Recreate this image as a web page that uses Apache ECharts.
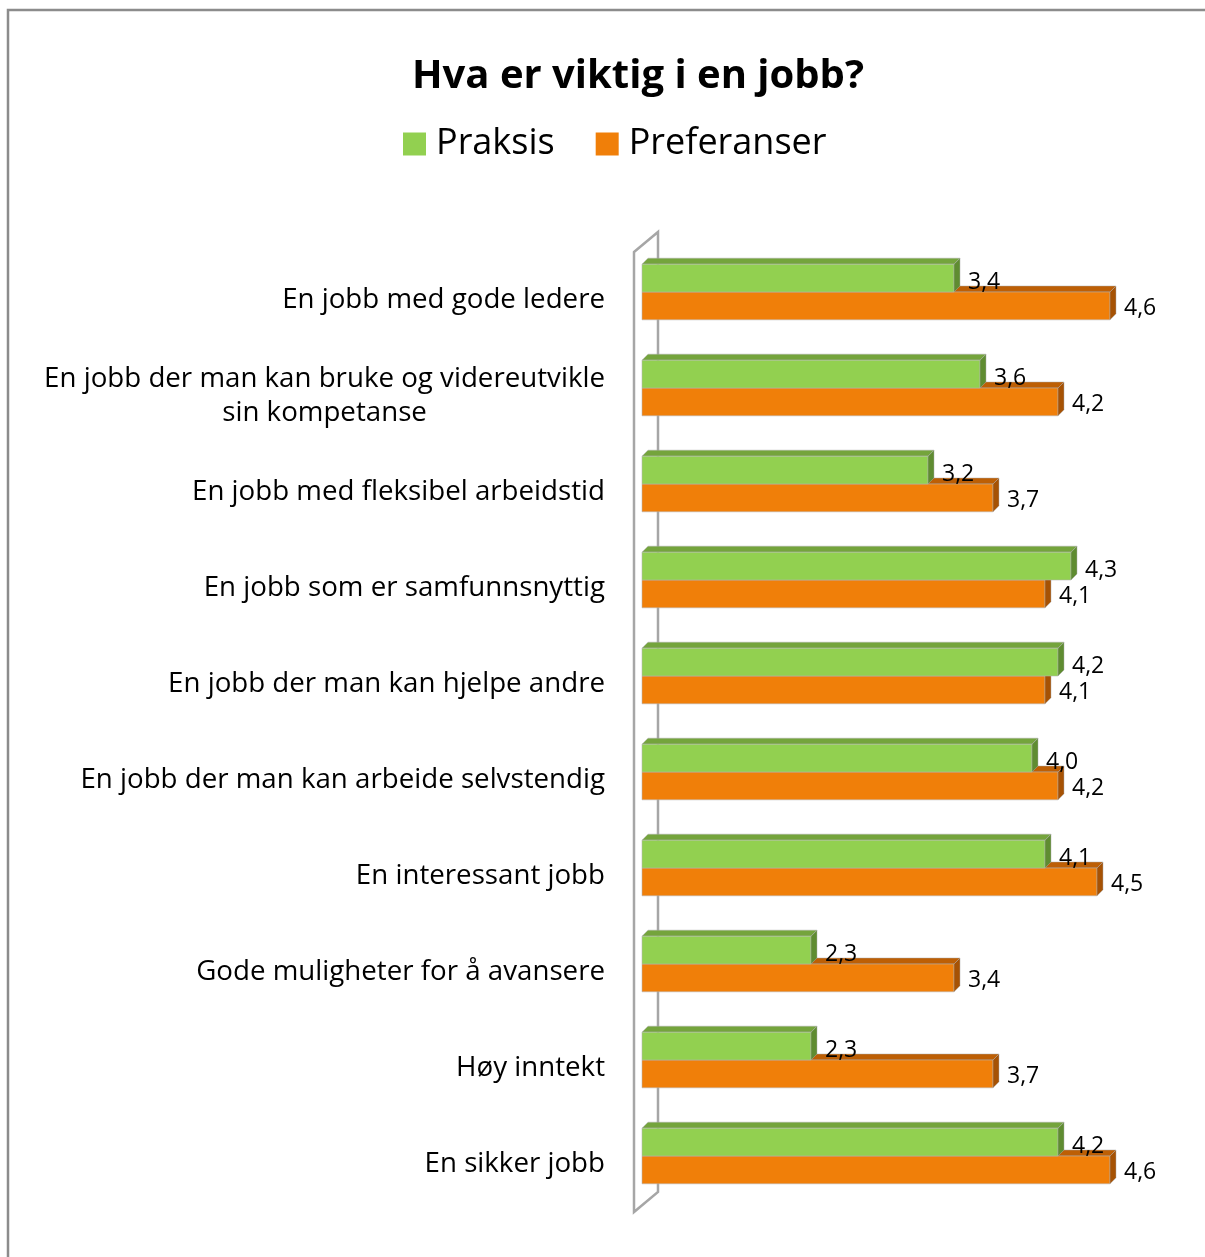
<!DOCTYPE html>
<html>
<head>
<meta charset="utf-8">
<title>Hva er viktig i en jobb?</title>
<script src="https://cdn.jsdelivr.net/npm/echarts@6/dist/echarts.min.js"></script>
<style>
  html, body { margin: 0; padding: 0; background: #ffffff; }
  #chart { width: 1205px; height: 1257px; }
</style>
</head>
<body>
<div id="chart"></div>
<script>
// Survey items (top to bottom)
const categories = [
  'En jobb med gode ledere',
  'En jobb der man kan bruke og videreutvikle\nsin kompetanse',
  'En jobb med fleksibel arbeidstid',
  'En jobb som er samfunnsnyttig',
  'En jobb der man kan hjelpe andre',
  'En jobb der man kan arbeide selvstendig',
  'En interessant jobb',
  'Gode muligheter for å avansere',
  'Høy inntekt',
  'En sikker jobb'
];
const seriesNames = ['Praksis', 'Preferanser'];
const praksis = [3.4, 3.6, 3.2, 4.3, 4.2, 4.0, 4.1, 2.3, 2.3, 4.2];
const preferanser = [4.6, 4.2, 3.7, 4.1, 4.1, 4.2, 4.5, 3.4, 3.7, 4.6];

const FONT = '"Open Sans"';
const palette = [
  { front: '#92D050', top: '#74A43C', side: '#5F8C31' },
  { front: '#F07F09', top: '#BD5F05', side: '#A65204' }
];
const DEPTH = 6;

function fmt(v) { return v.toFixed(1).replace('.', ','); }

// 3D-looking horizontal bar: front face, top face and right side face
function barRenderer(slot) {
  return function (params, api) {
    const v = api.value(0);
    const cat = api.value(1);
    const start = api.coord([1, cat]);
    const end = api.coord([v, cat]);
    const band = api.size([0, 1])[1];
    const h = band * 0.29;
    const pairCenter = start[1] - 8;
    const top = slot === 0 ? pairCenter - h : pairCenter;
    const x0 = start[0], x1 = end[0];
    const c = palette[slot];
    const d = DEPTH;
    return {
      type: 'group',
      children: [
        {
          type: 'polygon',
          shape: { points: [[x0, top], [x0 + d, top - d], [x1 + d, top - d], [x1, top]] },
          style: { fill: c.top, stroke: 'rgba(170,170,170,0.6)', lineWidth: 0.8 }
        },
        {
          type: 'rect',
          shape: { x: x0, y: top, width: x1 - x0, height: h },
          style: { fill: c.front, stroke: 'rgba(180,180,180,0.7)', lineWidth: 0.8 }
        },
        {
          type: 'polygon',
          shape: { points: [[x1, top], [x1 + d, top - d], [x1 + d, top + h - d], [x1, top + h]] },
          style: { fill: c.side, stroke: 'rgba(170,170,170,0.6)', lineWidth: 0.8 }
        },
        {
          type: 'text',
          style: {
            text: fmt(v),
            x: x1 + d + 8,
            y: top + h / 2 + (slot === 0 ? 4 : 3),
            verticalAlign: 'middle',
            align: 'left',
            fill: '#000000',
            font: '23px ' + FONT
          }
        }
      ]
    };
  };
}

// Slanted side wall on the left of the plot
function wallRenderer(params, api) {
  const cs = params.coordSys;
  const fx = cs.x - 8, bx = cs.x + 16;
  const shift = 20;
  const yTop = cs.y, yBot = cs.y + cs.height;
  return {
    type: 'polygon',
    shape: { points: [[fx, yTop], [bx, yTop - shift], [bx, yBot - shift], [fx, yBot]] },
    style: { fill: 'none', stroke: '#A6A6A6', lineWidth: 2.5 }
  };
}

const chart = echarts.init(document.getElementById('chart'), null, { renderer: 'canvas' });

chart.setOption({
  backgroundColor: '#ffffff',
  animation: false,
  title: {
    text: 'Hva er viktig i en jobb?',
    left: 633,
    textAlign: 'center',
    top: 52,
    textStyle: { fontFamily: FONT, fontWeight: 'bold', fontSize: 40, color: '#000000' }
  },
  legend: {
    left: 398,
    top: 121,
    itemWidth: 23,
    itemHeight: 23,
    itemGap: 41,
    icon: 'rect',
    textStyle: { fontFamily: FONT, fontSize: 36, color: '#000000', padding: [0, 0, 0, 5] },
    data: seriesNames
  },
  graphic: [{
    type: 'rect',
    shape: { x: 8, y: 10, width: 1400, height: 1400 },
    style: { fill: 'none', stroke: '#8C8C8C', lineWidth: 2.5 },
    silent: true
  }],
  grid: { left: 642, right: 43, top: 252, bottom: 45 },
  xAxis: {
    type: 'value',
    min: 1,
    max: 5,
    show: false
  },
  yAxis: {
    type: 'category',
    data: categories,
    inverse: true,
    axisLine: { show: false },
    axisTick: { show: false },
    splitLine: { show: false },
    axisLabel: {
      margin: 37,
      align: 'right',
      color: '#000000',
      fontFamily: FONT,
      fontSize: 27.7,
      lineHeight: 34,
      formatter: function (val) {
        return val.split('\n').map(function (s) { return '{c|' + s + '}'; }).join('\n');
      },
      rich: {
        c: { align: 'center', fontFamily: FONT, fontSize: 27.7, lineHeight: 34, color: '#000000' }
      }
    }
  },
  series: [
    {
      name: 'wall',
      type: 'custom',
      renderItem: wallRenderer,
      data: [[1, 0]],
      z: 1,
      silent: true,
      legendHoverLink: false
    },
    {
      name: seriesNames[0],
      type: 'custom',
      renderItem: barRenderer(0),
      encode: { x: 0, y: 1 },
      itemStyle: { color: palette[0].front },
      data: praksis.map(function (v, i) { return [v, i]; }),
      z: 4
    },
    {
      name: seriesNames[1],
      type: 'custom',
      renderItem: barRenderer(1),
      encode: { x: 0, y: 1 },
      itemStyle: { color: palette[1].front },
      data: preferanser.map(function (v, i) { return [v, i]; }),
      z: 3
    }
  ]
});
</script>
</body>
</html>
